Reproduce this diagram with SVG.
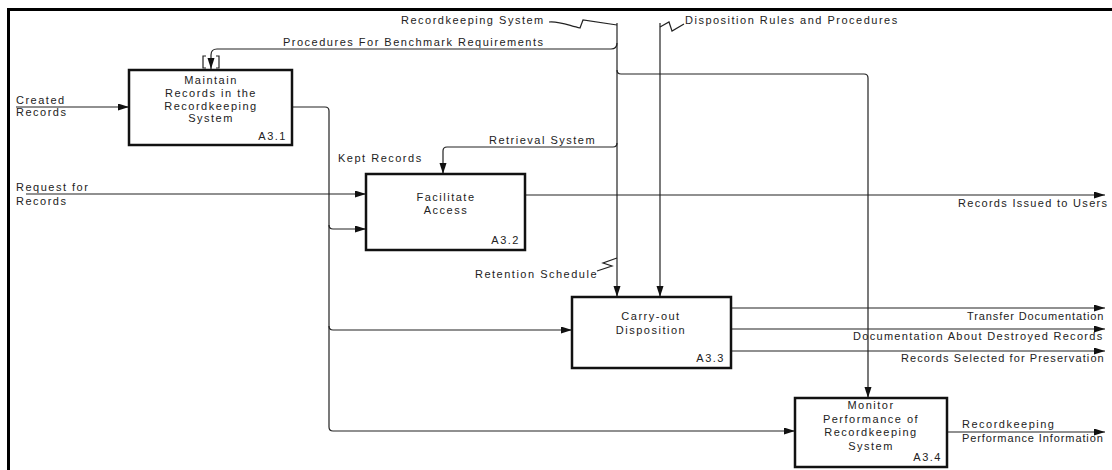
<svg xmlns="http://www.w3.org/2000/svg" width="1112" height="470" viewBox="0 0 1112 470">
<defs>
<style>
text{font-family:"Liberation Sans",Arial,sans-serif;font-size:11px;letter-spacing:1.5px;fill:#222}
.box{fill:#fff;stroke:#111;stroke-width:2.5}
.c{fill:none;stroke:#222;stroke-width:1.2}
.ca{fill:none;stroke:#222;stroke-width:1.2;marker-end:url(#ah)}
.sq{fill:none;stroke:#222;stroke-width:1.2}
.mid{text-anchor:middle}
.end{text-anchor:end}
.tight{letter-spacing:0.9px}
</style>
<marker id="ah" markerUnits="userSpaceOnUse" markerWidth="12" markerHeight="8" refX="11" refY="3.5" orient="auto">
<path d="M0,0 L11,3.5 L0,7 z" fill="#111"/>
</marker>
</defs>
<rect x="0" y="0" width="1112" height="470" fill="#fff"/>
<path d="M8.5,470 V9.5 H1112" fill="none" stroke="#000" stroke-width="3"/>

<g id="connectors">
<path class="ca" d="M16,107 H129"/>
<path class="ca" d="M292,107 H325 Q329,107 329,111 V427 Q329,431 333,431 H795"/>
<path class="ca" d="M329,225 Q329,229 333,229 H366"/>
<path class="ca" d="M329,326 Q329,330 333,330 H572"/>
<path class="ca" d="M26,194 H366"/>
<path class="ca" d="M525,195 H1105"/>
<path class="ca" d="M617,23 V297"/>
<path class="sq" d="M549,22 C560,21 570,26 580,28 L583,20 L617,25"/>
<path class="ca" d="M617,43 Q617,49 611,49 H217 Q211,49 211,55 V69"/>
<path class="c" d="M206,56 H203 V68 H206 M216,56 H219 V68 H216"/>
<path class="ca" d="M617,70 Q617,74 621,74 H864 Q868,74 868,78 V398"/>
<path class="ca" d="M617,143 Q617,147 613,147 H447 Q443,147 443,151 V174"/>
<path class="ca" d="M660,23 V297"/>
<path class="sq" d="M660,27 L669,22 L672,31 L684,24"/>
<path class="sq" d="M597,271 L612,266 L603,263 L617,258"/>
<path class="ca" d="M731,308 H1105"/>
<path class="ca" d="M731,329 H1105"/>
<path class="ca" d="M731,351 H1105"/>
<path class="ca" d="M947,432 H1105"/>
</g>

<g id="labels">
<text x="16" y="104">Created</text>
<text x="16" y="116">Records</text>
<text x="16" y="191">Request for</text>
<text x="16" y="205">Records</text>
<text x="401" y="24">Recordkeeping System</text>
<text x="685" y="24">Disposition Rules and Procedures</text>
<text x="283" y="46">Procedures For Benchmark Requirements</text>
<text x="489" y="144">Retrieval System</text>
<text x="338" y="162">Kept Records</text>
<text x="475" y="278">Retention Schedule</text>
<text x="958" y="207" style="letter-spacing:1.3px">Records Issued to Users</text>
<text class="tight" x="967" y="320">Transfer Documentation</text>
<text x="853" y="340" style="letter-spacing:1.3px">Documentation About Destroyed Records</text>
<text x="901" y="362" style="letter-spacing:1.1px">Records Selected for Preservation</text>
<text x="962" y="428">Recordkeeping</text>
<text class="tight" x="962" y="442">Performance Information</text>
</g>

<g id="A3.1">
<rect class="box" x="129" y="70" width="163" height="75"/>
<text class="mid" x="211" y="84">Maintain</text>
<text class="mid" x="211" y="97">Records in the</text>
<text class="mid" x="211" y="110">Recordkeeping</text>
<text class="mid" x="211" y="122">System</text>
<text class="end" x="287" y="140">A3.1</text>
</g>

<g id="A3.2">
<rect class="box" x="366" y="174" width="159" height="76"/>
<text class="mid" x="446" y="201">Facilitate</text>
<text class="mid" x="446" y="214">Access</text>
<text class="end" x="520" y="244">A3.2</text>
</g>

<g id="A3.3">
<rect class="box" x="572" y="297" width="159" height="71"/>
<text class="mid" x="651" y="320">Carry-out</text>
<text class="mid" x="651" y="334">Disposition</text>
<text class="end" x="725" y="362">A3.3</text>
</g>

<g id="A3.4">
<rect class="box" x="795" y="398" width="152" height="69"/>
<text class="mid" x="871" y="409">Monitor</text>
<text class="mid" x="871" y="423">Performance of</text>
<text class="mid" x="871" y="436">Recordkeeping</text>
<text class="mid" x="871" y="450">System</text>
<text class="end" x="942" y="461">A3.4</text>
</g>
</svg>
